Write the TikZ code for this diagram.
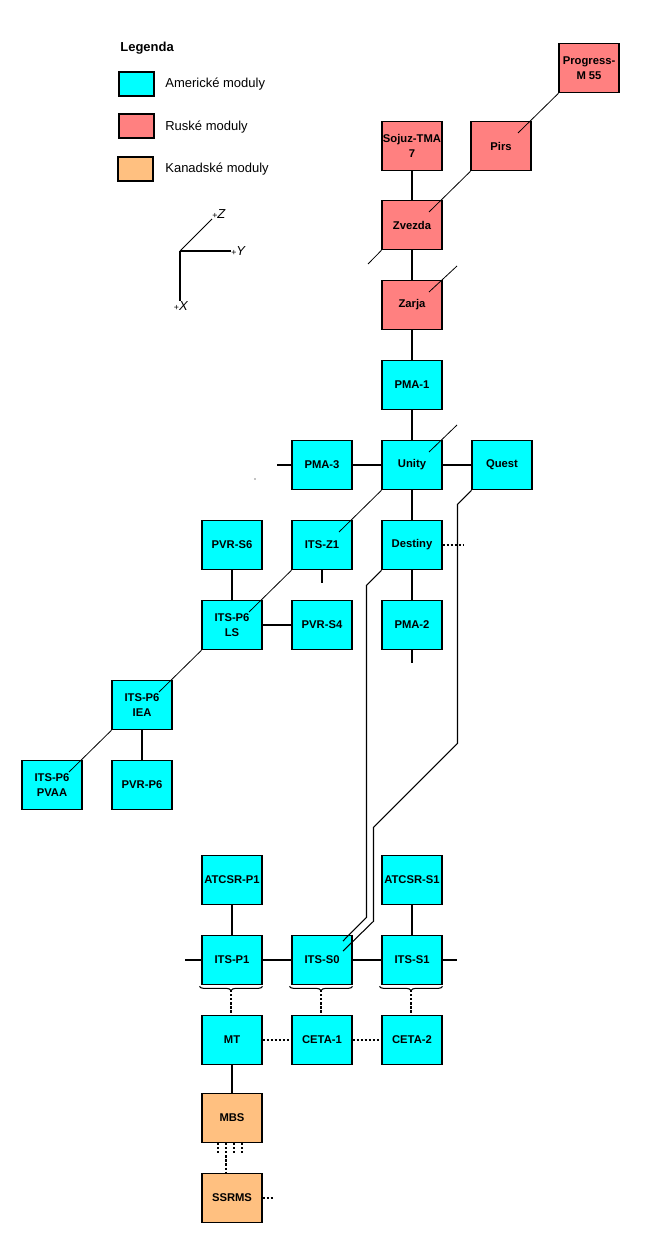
\documentclass[tikz,border=0pt]{standalone}
\usepackage{fontspec}
\setmainfont{Liberation Sans}
\usetikzlibrary{decorations.pathreplacing}

\definecolor{usa}{HTML}{00FFFF}
\definecolor{rus}{HTML}{FF8080}
\definecolor{can}{HTML}{FFC080}

\tikzset{
  module/.style={draw, line width=0.6pt, minimum width=1.2cm, minimum height=0.99cm,
    inner sep=0pt, align=center, font=\fontsize{6.4}{8.2}\selectfont\bfseries},
  am/.style={module, fill=usa},
  ru/.style={module, fill=rus},
  ca/.style={module, fill=can},
  link/.style={line width=0.6pt},
  zlink/.style={line width=0.45pt},
  dlink/.style={line width=0.6pt, dash pattern=on 1.2pt off 1.1pt},
  legbox/.style={draw, line width=0.6pt, minimum width=0.7cm, minimum height=0.48cm, inner sep=0pt},
  legtext/.style={anchor=west, inner sep=0pt, font=\fontsize{7.4}{9}\selectfont},
  axlabel/.style={inner sep=0pt, font=\fontsize{7.4}{9}\selectfont},
}

\begin{document}
\begin{tikzpicture}[x=0.02cm, y=-0.02cm]
\useasboundingbox (0,0) rectangle (655,1250);

% Legend
\node[legtext, font=\fontsize{7.4}{9}\selectfont\bfseries] (legtitle) at (120,48) {Legenda};
\node[legbox, fill=usa] (legusa) at (136.5,84) {};
\node[legbox, fill=rus] (legrus) at (136.5,126) {};
\node[legbox, fill=can] (legcan) at (135.5,169) {};
\node[legtext] (legusatext) at (165,84) {Americké moduly};
\node[legtext] (legrustext) at (165,127) {Ruské moduly};
\node[legtext] (legcantext) at (165,169) {Kanadské moduly};

% Axes
\coordinate (ax0) at (180,251);
\node[axlabel, anchor=west] (axy) at (231,251) {{\fontsize{5}{6}\selectfont+}\textit{Y}};
\node[axlabel, anchor=north] (axx) at (181,301) {{\fontsize{5}{6}\selectfont+}\textit{X}};
\node[axlabel, anchor=south west] (axz) at (212,219) {{\fontsize{5}{6}\selectfont+}\textit{Z}};
\draw[link] (ax0) -- (axy.west);
\draw[link] (ax0) -- (axx.north -| ax0);
\draw[zlink] (ax0) -- (axz.south west);

% Russian segment
\node[ru] (progress) at (589,68) {Progress-\\M 55};
\node[ru] (sojuz) at (412,146) {Sojuz-TMA\\7};
\node[ru] (pirs) at (501,146) {Pirs};
\node[ru] (zvezda) at (412,225) {Zvezda};
\node[ru] (zarja) at (412,305) {Zarja};

% US modules
\node[am] (pma1) at (412,385) {PMA-1};
\node[am] (pma3) at (322,465) {PMA-3};
\node[am] (unity) at (412,465) {Unity};
\node[am] (quest) at (502,465) {Quest};
\node[am] (pvrs6) at (232,545) {PVR-S6};
\node[am] (itsz1) at (322,545) {ITS-Z1};
\node[am] (destiny) at (412,545) {Destiny};
\node[am] (itsp6ls) at (232,625) {ITS-P6\\LS};
\node[am] (pvrs4) at (322,625) {PVR-S4};
\node[am] (pma2) at (412,625) {PMA-2};
\node[am] (itsp6iea) at (142,705) {ITS-P6\\IEA};
\node[am] (itsp6pvaa) at (52,785) {ITS-P6\\PVAA};
\node[am] (pvrp6) at (142,785) {PVR-P6};

% Truss
\node[am] (atcsrp1) at (232,880) {ATCSR-P1};
\node[am] (atcsrs1) at (412,880) {ATCSR-S1};
\node[am] (itsp1) at (232,960) {ITS-P1};
\node[am] (itss0) at (322,960) {ITS-S0};
\node[am] (itss1) at (412,960) {ITS-S1};
\node[am] (mt) at (232,1040) {MT};
\node[am] (ceta1) at (322,1040) {CETA-1};
\node[am] (ceta2) at (412,1040) {CETA-2};

% Canadian modules
\node[ca] (mbs) at (232,1118) {MBS};
\node[ca] (ssrms) at (232,1198) {SSRMS};

% Z ports and free ends
\foreach \n in {pirs,zvezda,zarja,unity,itsz1,itsp6ls,itsp6iea,itsp6pvaa}
  \coordinate (\n-z) at ([shift={(17,-13)}]\n.center);
\coordinate (zvezdastub) at (368,264);
\coordinate (zarjastub) at (457,266);
\coordinate (unitystub) at (457,425);
\coordinate (pma3stub) at (277,465);
\coordinate (destinystub) at (463,545);
\coordinate (itsz1stub) at (322,583);
\coordinate (pma2stub) at (412,663);
\coordinate (itsp1stub) at (185,960);
\coordinate (itss1stub) at (457,960);
\coordinate (ssrmsstub) at (274,1198);

% Straight links
\draw[link] (sojuz) -- (zvezda);
\draw[link] (zvezda) -- (zarja);
\draw[link] (zarja) -- (pma1);
\draw[link] (pma1) -- (unity);
\draw[link] (pma3stub) -- (pma3);
\draw[link] (pma3) -- (unity);
\draw[link] (unity) -- (quest);
\draw[link] (unity) -- (destiny);
\draw[link] (destiny) -- (pma2);
\draw[link] (pma2.south) -- (pma2stub);
\draw[link] (itsz1.south) -- (itsz1stub);
\draw[link] (pvrs6) -- (itsp6ls);
\draw[link] (itsp6ls) -- (pvrs4);
\draw[link] (itsp6iea) -- (pvrp6);
\draw[link] (atcsrp1) -- (itsp1);
\draw[link] (atcsrs1) -- (itss1);
\draw[link] (itsp1stub) -- (itsp1);
\draw[link] (itsp1) -- (itss0);
\draw[link] (itss0) -- (itss1);
\draw[link] (itss1.east) -- (itss1stub);
\draw[link] (mt) -- (mbs);

% Z direction links
\draw[zlink] (progress.south west) -- (pirs-z);
\draw[zlink] (pirs.south west) -- (zvezda-z);
\draw[zlink] (zvezda.south west) -- (zvezdastub);
\draw[zlink] (zarjastub) -- (zarja-z);
\draw[zlink] (unitystub) -- (unity-z);
\draw[zlink] (unity.south west) -- (itsz1-z);
\draw[zlink] (itsz1.south west) -- (itsp6ls-z);
\draw[zlink] (itsp6ls.south west) -- (itsp6iea-z);
\draw[zlink] (itsp6iea.south west) -- (itsp6pvaa-z);

% Cables down to ITS-S0
\draw[link] (destiny.south west) -- ++(-15,15) -- ++(0,332) -- ([shift={(21,-19)}]itss0.center);
\draw[link] (quest.south west) -- ++(-14,14) -- ++(0,239) -- ++(-84,84) -- ++(0,94) -- ([shift={(21,-9)}]itss0.center);

% Braces and dotted links
\foreach \n in {itsp1,itss0,itss1}{
  \draw[link, decorate, decoration={brace, mirror, amplitude=2.4pt}] ([shift={(-2,1)}]\n.south west) -- ([shift={(0,1)}]\n.south east);
  \coordinate (\n-b) at ([shift={(-1,5)}]\n.south);
}
\draw[dlink] (itsp1-b) -- (mt.north -| itsp1-b);
\draw[dlink] (itss0-b) -- (ceta1.north -| itss0-b);
\draw[dlink] (itss1-b) -- (ceta2.north -| itss1-b);
\draw[dlink] (mt) -- (ceta1);
\draw[dlink] (ceta1) -- (ceta2);
\draw[dlink] (destiny.east) -- (destinystub);
\foreach \dx in {-14,2,10}
  \draw[dlink] ([shift={(\dx,0)}]mbs.south) -- ++(0,11);
\draw[dlink] ([shift={(-6,0)}]mbs.south) -- ([shift={(-6,0)}]ssrms.north);
\draw[dlink] (ssrms.east) -- (ssrmsstub);

% speck
\fill (255,479) circle (0.6);

\end{tikzpicture}
\end{document}
